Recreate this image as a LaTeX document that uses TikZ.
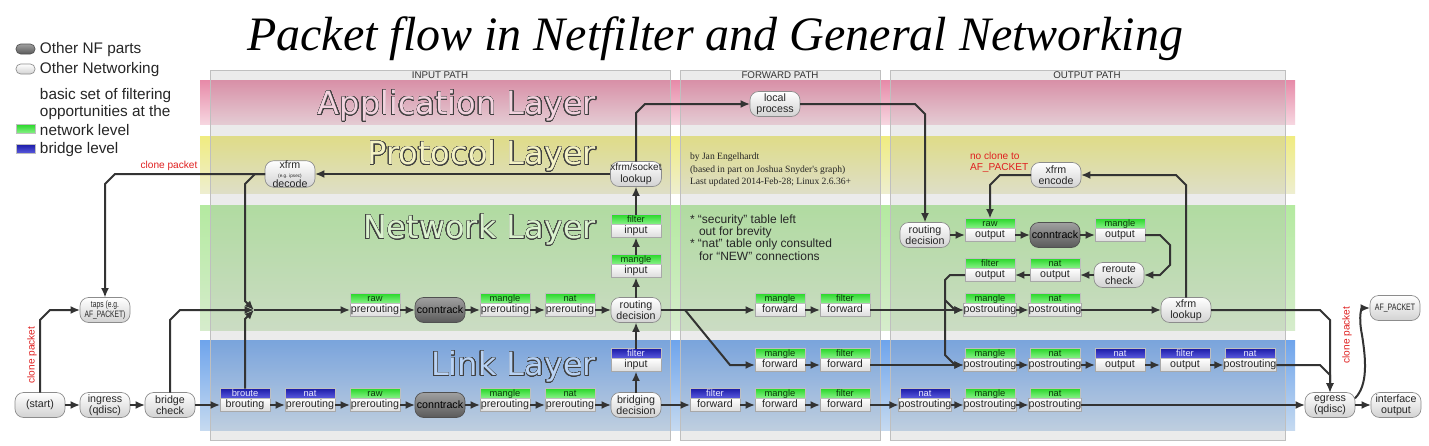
\documentclass[tikz,border=0pt]{standalone}
\usepackage{fontspec}
\setmainfont{Liberation Sans}
\newfontfamily\seriffont{Liberation Serif}
\newfontfamily\layerfont{DejaVu Sans}
\usepackage{contour}
\usetikzlibrary{arrows.meta}
\contourlength{0.4pt}
\contournumber{32}
\definecolor{linecol}{HTML}{333333}
\definecolor{nodeborder}{HTML}{8C8C8C}
\definecolor{nodebot}{HTML}{D2D2D2}
\definecolor{darktop}{HTML}{A0A0A0}
\definecolor{darkbot}{HTML}{5A5A5A}
\definecolor{darkborder}{HTML}{505050}
\definecolor{tblborder}{HTML}{A8A8A8}
\definecolor{tblbot}{HTML}{DCDCDC}
\definecolor{greentop}{HTML}{2AD82A}
\definecolor{greenbot}{HTML}{8CF28C}
\definecolor{greentext}{HTML}{0A3A0A}
\definecolor{bluetop}{HTML}{1C1CA8}
\definecolor{bluebot}{HTML}{5C5CE0}
\definecolor{bluetext}{HTML}{E8E8FF}
\definecolor{apptop}{HTML}{E78AA8}
\definecolor{appbot}{HTML}{F6D6E0}
\definecolor{appfill}{HTML}{F2D2DE}
\definecolor{prottop}{HTML}{F0EC80}
\definecolor{protbot}{HTML}{EEEED0}
\definecolor{protfill}{HTML}{F4F2C4}
\definecolor{nettop}{HTML}{B4EAA0}
\definecolor{netbot}{HTML}{D6ECCC}
\definecolor{netfill}{HTML}{DAF2CE}
\definecolor{linktop}{HTML}{6EA4EC}
\definecolor{linkbot}{HTML}{C6DAF0}
\definecolor{linkfill}{HTML}{B8D2F4}
\definecolor{redtext}{HTML}{E02020}
\tikzset{
  every node/.style={inner sep=0pt, outer sep=0pt},
  rnode/.style={draw=nodeborder, line width=0.5pt, rounded corners=6.5pt, top color=white, bottom color=nodebot,
    minimum width=37.5pt, minimum height=18.75pt, align=center, font=\fontsize{8}{8.5}\selectfont, text=black!85},
  dnode/.style={rnode, draw=darkborder, top color=darktop, bottom color=darkbot, text=black},
  tbody/.style={draw=tblborder, line width=0.4pt, top color=white, bottom color=tblbot, minimum width=37.5pt,
    minimum height=9.75pt, text height=5.8pt, text depth=1.7pt, font=\fontsize{8}{8}\selectfont, text=black!85},
  gh/.style={draw=black!25, line width=0.3pt, top color=greentop, bottom color=greenbot, minimum width=37.5pt,
    minimum height=7.5pt, text height=5pt, text depth=1.2pt, font=\fontsize{7}{7}\selectfont, anchor=south, text=greentext},
  bh/.style={gh, top color=bluetop, bottom color=bluebot, text=bluetext},
  flow/.style={draw=linecol, line width=1.5pt, -{Latex[length=7pt,width=6pt]}},
  colbox/.style={fill=black!35, fill opacity=0.22, draw=black!25, line width=0.6pt},
  pathlbl/.style={font=\fontsize{7.3}{7.3}\selectfont, text=black!80},
  legend/.style={anchor=west, font=\fontsize{11.5}{12.75}\selectfont, text=black!85, align=left},
  layertitle/.style={anchor=east, font=\layerfont\fontsize{24}{24}\selectfont},
  redlbl/.style={font=\fontsize{7.6}{8.5}\selectfont, text=redtext},
  note/.style={anchor=west, font=\fontsize{9}{9}\selectfont, text=black!85},
  author/.style={anchor=west, font=\seriffont\fontsize{7.2}{7.2}\selectfont, text=black!85}
}
\newcommand\tblnode[6]{%
  \node[tbody] (#1) at (#2,#3) {#6};
  \node[#4] (#1h) at (#1.north) {#5};}
\begin{document}
\begin{tikzpicture}[x=0.75pt,y=-0.75pt]
\useasboundingbox (0,0) rectangle (1429,446);
\fill[white] (0,0) rectangle (1429,446);
% title
\node[font=\seriffont\itshape\fontsize{36}{40}\selectfont] (title) at (715,39) {Packet flow in Netfilter and General Networking};
% legend
\node[dnode, minimum width=14.25pt, minimum height=7.5pt, rounded corners=3.5pt] (lgnf) at (25.5,49) {};
\node[legend] (lgnft) at (40,50) {Other NF parts};
\node[rnode, minimum width=14.25pt, minimum height=7.5pt, rounded corners=3.5pt] (lgon) at (25.5,69) {};
\node[legend] (lgont) at (40,70) {Other Networking};
\node[legend] (lgbasic) at (40,104) {basic set of filtering\\opportunities at the};
\node[gh, anchor=center, minimum width=14.25pt, minimum height=7pt] (lggr) at (25.5,129) {};
\node[legend] (lggrt) at (40,130) {network level};
\node[bh, anchor=center, minimum width=14.25pt, minimum height=7pt] (lgbl) at (25.5,149) {};
\node[legend] (lgblt) at (40,150) {bridge level};
% layer bands
\shade[top color=apptop, bottom color=appbot] (200,80) rectangle (1295,124);
\shade[top color=prottop, bottom color=protbot] (200,136) rectangle (1295,193);
\shade[top color=nettop, bottom color=netbot] (200,205) rectangle (1295,330);
\shade[top color=linktop, bottom color=linkbot] (200,340) rectangle (1295,430);
% path columns
\draw[colbox] (210,70) rectangle (670,440);
\draw[colbox] (680,70) rectangle (880,440);
\draw[colbox] (890,70) rectangle (1285,440);
\node[pathlbl] (lblin) at (440,75) {INPUT PATH};
\node[pathlbl] (lblfw) at (780,75) {FORWARD PATH};
\node[pathlbl] (lblout) at (1087,75) {OUTPUT PATH};
% layer titles
\node[layertitle] (tapp) at (596,106) {\contour{black!75}{\textcolor{appfill}{Application Layer}}};
\node[layertitle] (tprot) at (596,156) {\contour{black!75}{\textcolor{protfill}{Protocol Layer}}};
\node[layertitle] (tnet) at (596,230) {\contour{black!75}{\textcolor{netfill}{Network Layer}}};
\node[layertitle] (tlink) at (596,367) {\contour{black!75}{\textcolor{linkfill}{Link Layer}}};
% texts
\node[author] (au1) at (690,157) {by Jan Engelhardt};
\node[author] (au2) at (690,170) {(based in part on Joshua Snyder's graph)};
\node[author] (au3) at (690,182) {Last updated 2014-Feb-28; Linux 2.6.36+};
\node[note] (nt1) at (690,220) {* “security” table left};
\node[note] (nt2) at (699,232) {out for brevity};
\node[note] (nt3) at (690,244) {* “nat” table only consulted};
\node[note] (nt4) at (699,256) {for “NEW” connections};
\node[redlbl] (clone1) at (169,166) {clone packet};
\node[redlbl, rotate=90] (clone2) at (32,355) {clone packet};
\node[redlbl, rotate=90] (clone3) at (1347,335) {clone packet};
\node[redlbl, anchor=west, align=left] (noclone) at (970,162) {no clone to\\AF\_PACKET};
% rounded nodes
\node[rnode] (start) at (40,405) {(start)};
\node[rnode] (ingress) at (105,405) {ingress\\(qdisc)};
\node[rnode] (bcheck) at (170,405) {bridge\\check};
\node[rnode, font=\fontsize{7}{7}\selectfont] (taps) at (105,310) {\scalebox{0.72}[1]{taps (e.g.}\\\scalebox{0.72}[1]{AF\_PACKET)}};
\node[rnode] (decode) at (290,174) {xfrm\\[-2pt]{\fontsize{3.5}{3.5}\selectfont (e.g. ipsec)}\\[-1pt]decode};
\node[rnode] (sockl) at (636,174) {{\fontsize{7.5}{8}\selectfont xfrm/socket}\\lookup};
\node[rnode] (local) at (775,104) {local\\process};
\node[rnode] (nrd) at (636,310) {routing\\decision};
\node[rnode] (lbd) at (636,405) {bridging\\decision};
\node[rnode] (ordec) at (925,235) {routing\\decision};
\node[rnode] (encode) at (1056,175) {xfrm\\encode};
\node[rnode] (reroute) at (1119,275) {reroute\\check};
\node[rnode] (xlookup) at (1186,310) {xfrm\\lookup};
\node[rnode] (egress) at (1330,405) {egress\\(qdisc)};
\node[rnode] (ifout) at (1396,405) {interface\\output};
\node[rnode, font=\fontsize{7}{7}\selectfont] (afp) at (1395,308) {\scalebox{0.75}[1]{AF\_PACKET}};
\node[dnode] (nct) at (440,310) {conntrack};
\node[dnode] (lct) at (440,405) {conntrack};
\node[dnode] (oct) at (1055,235) {conntrack};
% link row
\tblnode{lbr}{245}{405}{bh}{broute}{brouting}
\tblnode{lnatpre}{310}{405}{bh}{nat}{prerouting}
\tblnode{lrawpre}{375}{405}{gh}{raw}{prerouting}
\tblnode{lmanpre}{505}{405}{gh}{mangle}{prerouting}
\tblnode{lnatpre2}{570}{405}{gh}{nat}{prerouting}
\tblnode{lfin}{636}{365}{bh}{filter}{input}
\tblnode{lffwd}{715}{405}{bh}{filter}{forward}
\tblnode{lmfwd}{780}{405}{gh}{mangle}{forward}
\tblnode{lffwd2}{845}{405}{gh}{filter}{forward}
\tblnode{lnatpost}{925}{405}{bh}{nat}{postrouting}
\tblnode{lmpost}{990}{405}{gh}{mangle}{postrouting}
\tblnode{lnpost}{1055}{405}{gh}{nat}{postrouting}
% link row 2
\tblnode{l2mfwd}{780}{365}{gh}{mangle}{forward}
\tblnode{l2ffwd}{845}{365}{gh}{filter}{forward}
\tblnode{l2mpost}{990}{365}{gh}{mangle}{postrouting}
\tblnode{l2npost}{1055}{365}{gh}{nat}{postrouting}
\tblnode{l2nout}{1120}{365}{bh}{nat}{output}
\tblnode{l2fout}{1185}{365}{bh}{filter}{output}
\tblnode{l2npost2}{1250}{365}{bh}{nat}{postrouting}
% network row
\tblnode{nraw}{375}{310}{gh}{raw}{prerouting}
\tblnode{nman}{505}{310}{gh}{mangle}{prerouting}
\tblnode{nnat}{570}{310}{gh}{nat}{prerouting}
\tblnode{nmin}{636}{271}{gh}{mangle}{input}
\tblnode{nfin}{636}{231}{gh}{filter}{input}
\tblnode{nmfwd}{780}{310}{gh}{mangle}{forward}
\tblnode{nffwd}{845}{310}{gh}{filter}{forward}
\tblnode{nmpost}{990}{310}{gh}{mangle}{postrouting}
\tblnode{nnpost}{1055}{310}{gh}{nat}{postrouting}
% output
\tblnode{oraw}{990}{235}{gh}{raw}{output}
\tblnode{oman}{1120}{235}{gh}{mangle}{output}
\tblnode{onat}{1055}{275}{gh}{nat}{output}
\tblnode{ofil}{990}{275}{gh}{filter}{output}
% connectors
\coordinate (j) at (254,310);
\coordinate (split) at (685,310);
\draw[flow] (start) -- (ingress);
\draw[flow] (ingress) -- (bcheck);
\draw[flow] (bcheck) -- (lbr);
\draw[flow] (lbr) -- (lnatpre);
\draw[flow] (lnatpre) -- (lrawpre);
\draw[flow] (lrawpre) -- (lct);
\draw[flow] (lct) -- (lmanpre);
\draw[flow] (lmanpre) -- (lnatpre2);
\draw[flow] (lnatpre2) -- (lbd);
\draw[flow] (lbd) -- (lffwd);
\draw[flow] (lffwd) -- (lmfwd);
\draw[flow] (lmfwd) -- (lffwd2);
\draw[flow] (lffwd2) -- (lnatpost);
\draw[flow] (lnatpost) -- (lmpost);
\draw[flow] (lmpost) -- (lnpost);
\draw[flow] (lnpost) -- (egress);
\draw[flow] (lbd) -- (lfin);
\draw[flow] (lfinh) -- (nrd);
\draw[flow] (start.north) -- (40,320) -- (50,310) -- (taps.west);
\draw[flow] (decode.west) -- (115,174) -- (105,184) -- (taps.north);
\draw[flow] (decode.west) -- (255,174) -- (245,184) -- (245,301) -- (j);
\draw[flow] (bcheck.north) -- (170,320) -- (180,310) -- (j);
\draw[flow] (lbrh.north) -- (245,319) -- (j);
\draw[flow] (j) -- (nraw);
\draw[flow] (nraw) -- (nct);
\draw[flow] (nct) -- (nman);
\draw[flow] (nman) -- (nnat);
\draw[flow] (nnat) -- (nrd);
\draw[flow] (nrd) -- (nmin);
\draw[flow] (nminh) -- (nfin);
\draw[flow] (nfinh) -- (sockl);
\draw[flow] (sockl.north) -- (636,113) -- (645,104) -- (local.west);
\draw[flow] (sockl) -- (decode);
\draw[flow] (nrd) -- (nmfwd);
\draw[flow] (split) -- (730,365) -- (l2mfwd.west);
\draw[flow] (nmfwd) -- (nffwd);
\draw[flow] (nffwd) -- (nmpost);
\draw[flow] (l2mfwd) -- (l2ffwd);
\draw[flow] (l2ffwd) -- (l2mpost);
\draw[flow] (local.east) -- (915,104) -- (925,114) -- (ordec.north);
\draw[flow] (ordec) -- (oraw);
\draw[flow] (oraw) -- (oct);
\draw[flow] (oct) -- (oman);
\draw[flow] (oman.east) -- (1160,235) -- (1170,245) -- (1170,265) -- (1160,275) -- (reroute.east);
\draw[flow] (reroute) -- (onat);
\draw[flow] (onat) -- (ofil);
\draw[flow] (ofil.west) -- (950,275) -- (945,280) -- (945,300) -- (955,310) -- (nmpost.west);
\draw[flow] (945,300) -- (945,355) -- (955,365) -- (l2mpost.west);
\draw[flow] (nmpost) -- (nnpost);
\draw[flow] (nnpost) -- (xlookup);
\draw[flow] (xlookup.north) -- (1186,185) -- (1176,175) -- (encode.east);
\draw[flow] (encode.west) -- (1000,175) -- (990,185) -- (orawh.north);
\draw[flow] (xlookup.east) -- (1320,310) -- (1330,320) -- (egress.north);
\draw[flow] (l2mpost) -- (l2npost);
\draw[flow] (l2npost) -- (l2nout);
\draw[flow] (l2nout) -- (l2fout);
\draw[flow] (l2fout) -- (l2npost2);
\draw[flow] (l2npost2.east) -- (1320,365) -- (1330,375) -- (egress.north);
\draw[flow] (egress) -- (ifout);
\draw[flow] (egress.15) .. controls (1368,385) and (1366,360) .. (1362,335) .. controls (1358,315) and (1362,308) .. (afp.west);
\end{tikzpicture}
\end{document}
